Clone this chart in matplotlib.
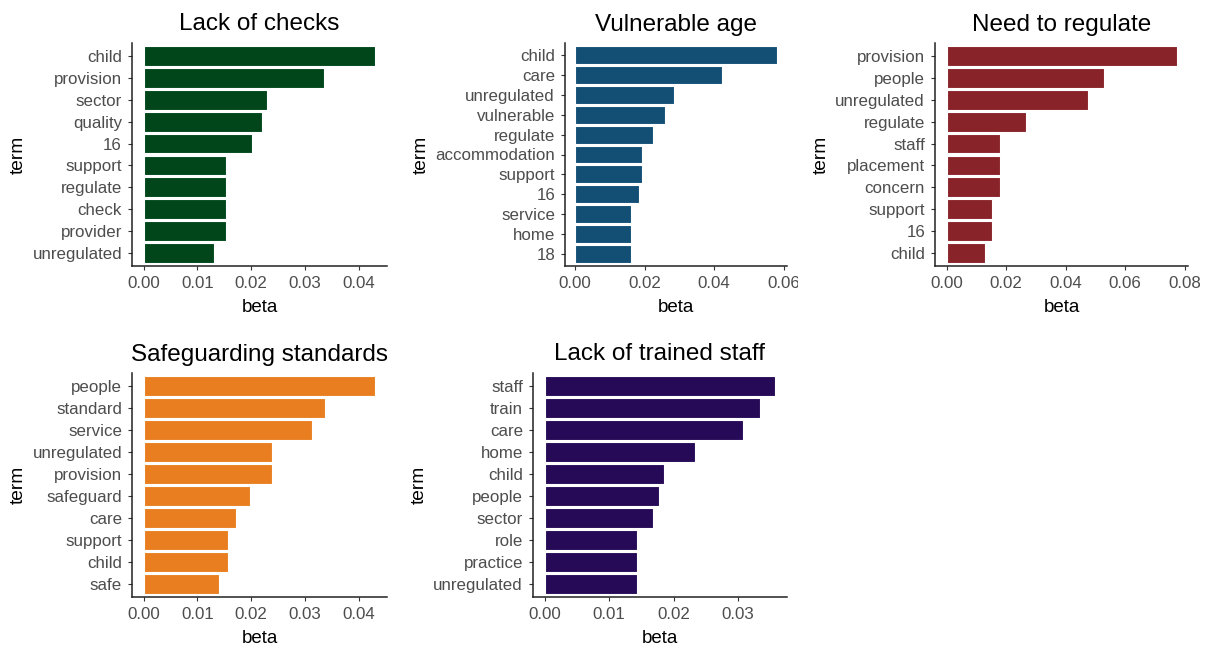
import numpy as np
import matplotlib
matplotlib.use('Agg')
import matplotlib.pyplot as plt
from matplotlib.transforms import Bbox, TransformedBbox

plt.rcParams['font.family'] = ['Liberation Sans', 'DejaVu Sans']

# ---------------- data ----------------
titles = ['Lack of checks', 'Vulnerable age', 'Need to regulate',
          'Safeguarding standards', 'Lack of trained staff']

terms_checks = ['child', 'provision', 'sector', 'quality', '16', 'support',
                'regulate', 'check', 'provider', 'unregulated']
beta_checks = [0.0431, 0.0335, 0.0230, 0.0220, 0.0202, 0.0153,
               0.0153, 0.0153, 0.0153, 0.0130]

terms_age = ['child', 'care', 'unregulated', 'vulnerable', 'regulate',
             'accommodation', 'support', '16', 'service', 'home', '18']
beta_age = [0.0581, 0.0422, 0.0284, 0.0260, 0.0224, 0.0192, 0.0192,
            0.0184, 0.0160, 0.0160, 0.0160]

terms_regulate = ['provision', 'people', 'unregulated', 'regulate', 'staff',
                  'placement', 'concern', 'support', '16', 'child']
beta_regulate = [0.0773, 0.0529, 0.0474, 0.0267, 0.0179, 0.0179,
                 0.0179, 0.0152, 0.0152, 0.0129]

terms_safe = ['people', 'standard', 'service', 'unregulated', 'provision',
              'safeguard', 'care', 'support', 'child', 'safe']
beta_safe = [0.0431, 0.0338, 0.0313, 0.0238, 0.0238, 0.0198, 0.0172,
             0.0157, 0.0157, 0.0141]

terms_staff = ['staff', 'train', 'care', 'home', 'child', 'people', 'sector',
               'role', 'practice', 'unregulated']
beta_staff = [0.0358, 0.0334, 0.0308, 0.0233, 0.0185, 0.0178, 0.0168,
              0.0144, 0.0144, 0.0144]

xticks_checks = [0.00, 0.01, 0.02, 0.03, 0.04]
xticks_age = [0.00, 0.02, 0.04, 0.06]
xticks_regulate = [0.00, 0.02, 0.04, 0.06, 0.08]
xticks_safe = [0.00, 0.01, 0.02, 0.03, 0.04]
xticks_staff = [0.00, 0.01, 0.02, 0.03]

colors = ['#00461a', '#134f75', '#89232a', '#e87e1f', '#260a57']

# panel boxes in pixels: left, top, right, bottom
W, H = 1209, 647
boxes = [(132, 43, 387, 266), (565, 43, 787, 266), (935, 43, 1188, 266),
         (132, 373, 387, 597), (533, 373, 787, 597)]

panels = [(terms_checks, beta_checks, xticks_checks),
          (terms_age, beta_age, xticks_age),
          (terms_regulate, beta_regulate, xticks_regulate),
          (terms_safe, beta_safe, xticks_safe),
          (terms_staff, beta_staff, xticks_staff)]

fig = plt.figure(figsize=(W / 100, H / 100), dpi=100)
axes = []
for i, (terms, beta, xt) in enumerate(panels):
    l, t, r, b = boxes[i]
    ax = fig.add_axes([l / W, 1 - b / H, (r - l) / W, (b - t) / H])
    n = len(terms)
    ax.barh(terms[::-1], beta[::-1], height=0.9, color=colors[i],
            edgecolor='white', linewidth=0.8)
    m = max(beta)
    ax.set_xlim(-0.05 * m, 1.05 * m)
    ax.set_ylim(-0.6, n - 0.4)
    ax.set_xticks(xt)
    ax.set_xticklabels(['%.2f' % v for v in xt])
    for s in ['top', 'right']:
        ax.spines[s].set_visible(False)
    for s in ['left', 'bottom']:
        ax.spines[s].set_color('#222222')
        ax.spines[s].set_linewidth(1.1)
    ax.tick_params(axis='both', colors='#333333', labelcolor='#4d4d4d',
                   labelsize=12.2, length=2.7, width=0.8)
    ax.tick_params(axis='x', pad=4.2)
    ax.tick_params(axis='y', pad=4.5)
    ax.set_xlabel('beta', fontsize=13.5, labelpad=6.3)
    ax.set_ylabel('term', fontsize=13.8, labelpad=4)
    ax.set_title(titles[i], fontsize=17.5, pad=9)
    axes.append(ax)

# the 0.06 label of the second panel is cut at the panel edge
fig.canvas.draw()
clip = TransformedBbox(Bbox([[0, 0], [798 / W, 1]]), fig.transFigure)
lab = axes[1].xaxis.get_major_ticks()[3].label1
lab.set_clip_on(True)
lab.set_clip_box(clip)

fig.savefig('out.png', dpi=100)
